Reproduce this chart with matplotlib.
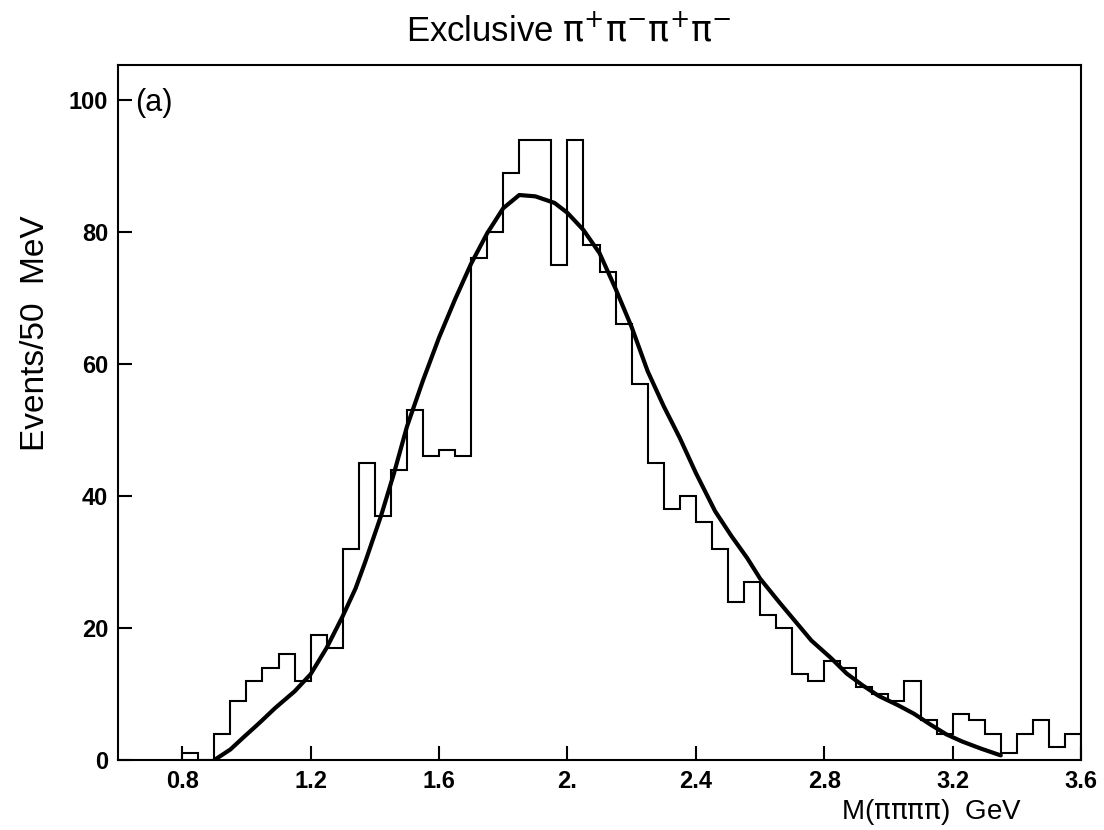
import numpy as np
import matplotlib
matplotlib.use("Agg")
import matplotlib.pyplot as plt

# histogram: events per 50 MeV bin, first bin starts at 0.80 GeV
bin_start = 0.80
bin_width = 0.05
counts = [1, 0, 4, 9, 12, 14, 16, 12, 19, 17,
          32, 45, 37, 44, 53, 46, 47, 46, 76, 80,
          89, 94, 94, 75, 94, 78, 74, 66, 57, 45,
          38, 40, 36, 32, 24, 27, 22, 20, 13, 12,
          15, 14, 11, 10, 9, 12, 6, 4, 7, 6,
          4, 1, 4, 6, 2, 4]

# fitted curve
curve_x = [0.90, 0.95, 0.99, 1.04, 1.09, 1.15, 1.20, 1.25, 1.30, 1.34,
           1.37, 1.42, 1.46, 1.50, 1.55, 1.60, 1.65, 1.70, 1.75,
           1.80, 1.85, 1.90, 1.96, 2.00, 2.05, 2.10, 2.15, 2.20, 2.25,
           2.30, 2.35, 2.40, 2.46, 2.51, 2.56, 2.60, 2.66, 2.71, 2.76,
           2.82, 2.87, 2.92, 2.97, 3.03, 3.08, 3.13, 3.18, 3.23, 3.29,
           3.35]
curve_y = [0.0, 1.6, 3.4, 5.6, 7.9, 10.4, 13.0, 17.0, 21.8, 26.0,
           30.0, 37.1, 43.5, 50.5, 57.5, 64.0, 69.8, 75.2, 79.8,
           83.6, 85.6, 85.4, 84.4, 82.9, 80.3, 76.8, 71.4, 65.6, 58.9,
           53.6, 48.8, 43.5, 37.7, 34.0, 30.6, 27.5, 23.9, 21.0, 18.1,
           15.5, 13.1, 11.3, 9.7, 8.3, 7.0, 5.4, 3.9, 2.8, 1.7,
           0.7]

xticks = [0.8, 1.2, 1.6, 2.0, 2.4, 2.8, 3.2, 3.6]
xticklabels = ["0.8", "1.2", "1.6", "2.", "2.4", "2.8", "3.2", "3.6"]
yticks = [0, 20, 40, 60, 80, 100]

plt.rcParams["font.family"] = ["Liberation Sans", "DejaVu Sans"]

fig = plt.figure(figsize=(11.04, 8.30), dpi=100)
ax = fig.add_axes([0.1069, 0.0843, 0.8723, 0.8374])

edges = bin_start + bin_width * np.arange(len(counts) + 1)
ax.stairs(counts, edges, color="black", linewidth=1.5)
ax.plot(curve_x, curve_y, color="black", linewidth=3.0,
        solid_capstyle="round", solid_joinstyle="round")

ax.set_xlim(0.6, 3.6)
ax.set_ylim(0, 105.3)
ax.set_xticks(xticks)
ax.set_xticklabels(xticklabels)
ax.set_yticks(yticks)
ax.tick_params(direction="in", length=10, width=1.5, labelsize=17, pad=7)
for lab in ax.get_xticklabels() + ax.get_yticklabels():
    lab.set_fontweight("bold")
for sp in ax.spines.values():
    sp.set_linewidth(1.5)

ax.text(0.018, 0.945, "(a)", transform=ax.transAxes, fontsize=22,
        ha="left", va="center")

fig.text(0.515, 0.963, r"Exclusive $\mathrm{\pi}^{+}\mathrm{\pi}^{-}\mathrm{\pi}^{+}\mathrm{\pi}^{-}$",
         fontsize=25, ha="center", va="center")
fig.text(0.926, 0.022, r"M($\mathrm{\pi\pi\pi\pi}$)  GeV", fontsize=20,
         ha="right", va="center")
fig.text(0.032, 0.599, "Events/50  MeV", fontsize=24, rotation=90,
         ha="center", va="center")

fig.savefig("out.png", dpi=100)
